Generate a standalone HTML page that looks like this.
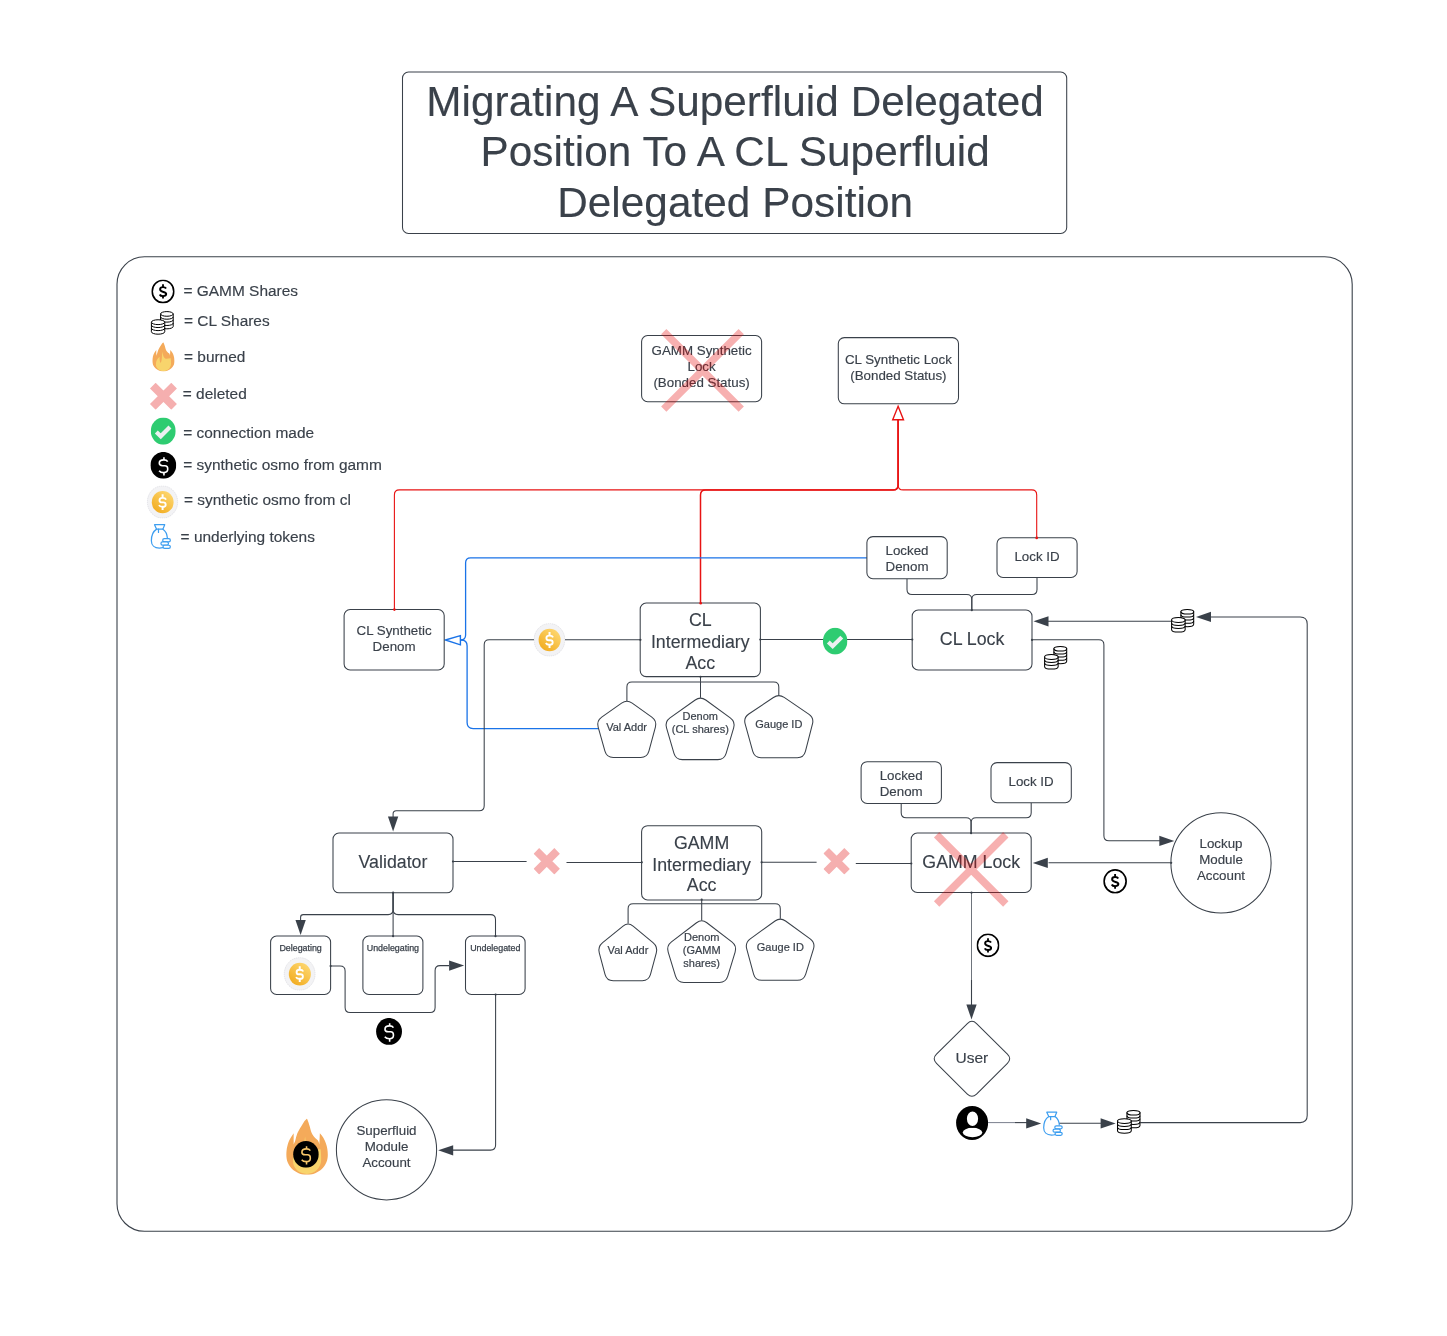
<!DOCTYPE html>
<html><head><meta charset="utf-8"><title>Migrating A Superfluid Delegated Position</title>
<style>
html,body{margin:0;padding:0;background:#fff;}
body{width:1447px;height:1336px;overflow:hidden;}
svg{display:block;font-family:"Liberation Sans", sans-serif;will-change:transform;}
</style></head><body>
<svg width="1447" height="1336" viewBox="0 0 1447 1336">

<defs>
 <linearGradient id="gold" x1="0.8" y1="0.1" x2="0.2" y2="0.9">
  <stop offset="0" stop-color="#fdd56d"/>
  <stop offset="1" stop-color="#f2ae24"/>
 </linearGradient>
 <!-- GAMM shares: outlined circle with $ -->
 <symbol id="gamm" viewBox="0 0 24 25">
  <ellipse cx="12" cy="12.4" rx="11.15" ry="11.55" fill="#fff" stroke="#000" stroke-width="1.7"/>
  <path d="M15.2 9.4 C14.6 8.4 13.6 8 12 8 C10.2 8 9 8.9 9 10.3 C9 13.9 15.3 12.3 15.3 15.2 C15.3 16.6 14 17.3 12 17.3 C10.3 17.3 9.1 16.7 8.6 15.6" fill="none" stroke="#000" stroke-width="2"/>
  <path d="M12 5 V8 M12 17.2 V19.8" stroke="#000" stroke-width="1.9"/>
 </symbol>
 <!-- synthetic osmo from gamm: black circle with thin white $ -->
 <symbol id="bdollar" viewBox="0 0 26 27">
  <ellipse cx="13" cy="13.5" rx="13" ry="13.5" fill="#000"/>
  <path d="M17.4 9.8 C16.7 8.6 15.3 8.0 13.5 8.0 C10.6 8.0 8.9 9.3 8.9 11.3 C8.9 13.2 10.3 13.9 12.3 13.9 L14.6 13.9 C16.3 13.9 17.4 15.0 17.4 16.9 L17.4 17.6 C17.4 19.6 15.7 20.9 13.4 20.9 C11.2 20.9 9.6 20.1 8.7 18.9" fill="none" stroke="#fff" stroke-width="1.6"/>
  <path d="M13.6 5.3 V8.1 M13.6 21 V23.8" stroke="#fff" stroke-width="1.6"/>
 </symbol>
 <symbol id="bdollar_gold" viewBox="0 0 26 27">
  <ellipse cx="13" cy="13.5" rx="13" ry="13.5" fill="#000"/>
  <path d="M17.4 9.8 C16.7 8.6 15.3 8.0 13.5 8.0 C10.6 8.0 8.9 9.3 8.9 11.3 C8.9 13.2 10.3 13.9 12.3 13.9 L14.6 13.9 C16.3 13.9 17.4 15.0 17.4 16.9 L17.4 17.6 C17.4 19.6 15.7 20.9 13.4 20.9 C11.2 20.9 9.6 20.1 8.7 18.9" fill="none" stroke="#f7c66a" stroke-width="1.6"/>
  <path d="M13.6 5.3 V8.1 M13.6 21 V23.8" stroke="#f7c66a" stroke-width="1.6"/>
 </symbol>
 <!-- synthetic osmo from cl: gold coin in light ring -->
 <symbol id="gcoin" viewBox="0 0 31.4 33.3">
  <ellipse cx="15.7" cy="16.65" rx="15.4" ry="16.35" fill="#f3f3f5" stroke="#d5d5da" stroke-width="0.6" stroke-dasharray="1.4 0.8"/>
  <ellipse cx="15.9" cy="16.8" rx="11.05" ry="11.35" fill="url(#gold)"/>
  <path d="M19.3 14.2 C18.8 13 17.5 12.4 15.8 12.4 C13.9 12.4 12.7 13.3 12.7 14.6 L12.7 15.1 C12.7 16.3 13.6 17 15 17 L16.6 17 C18 17 18.9 17.8 18.9 19.1 L18.9 19.6 C18.9 20.8 17.7 21.5 15.8 21.5 C14 21.5 12.7 20.9 12.1 19.8" fill="none" stroke="#fff" stroke-width="1.9"/>
  <path d="M15.8 8.9 V12.4 M15.8 21.5 V24.8" stroke="#fff" stroke-width="2"/>
 </symbol>
 <!-- coins stack (CL shares) -->
 <symbol id="coins" viewBox="0 0 24 25" overflow="visible" preserveAspectRatio="none">
  <g fill="#fff" stroke="#000" stroke-width="1.1">
   <path d="M10.25 2.6 V16.6 A6.95 2.6 0 0 0 24.15 16.6 V2.6 Z"/>
   <ellipse cx="17.2" cy="2.6" rx="6.95" ry="2.6"/>
   <path d="M10.25 5.9 A6.95 2.6 0 0 0 24.15 5.9 M10.25 9.15 A6.95 2.6 0 0 0 24.15 9.15 M10.25 12.9 A6.95 2.6 0 0 0 24.15 12.9" fill="none"/>
   <path d="M0.15 11.8 V22.5 A7.35 2.7 0 0 0 14.85 22.5 V11.8 Z"/>
   <ellipse cx="7.5" cy="11.8" rx="7.35" ry="2.7"/>
   <path d="M0.15 15.1 A7.35 2.7 0 0 0 14.85 15.1 M0.15 18.5 A7.35 2.7 0 0 0 14.85 18.5" fill="none"/>
  </g>
 </symbol>
 <!-- flame -->
 <symbol id="flame" viewBox="0 0 22.3 29.2" preserveAspectRatio="none">
  <path d="M11.1 0 C11.6 1.2 12.2 2.6 12.6 4.15 C13 5.6 13.2 6.6 13.7 7.75 C14.3 9 15.2 10.2 17 11.4 C17.4 12 17.6 12.8 17.7 13.6 C17.8 11.5 17.9 9.5 18 7.75 C19.5 9.2 20.6 11 21.3 13.2 C21.9 15 22.3 16.8 22.3 18.8 C22.3 24.5 17.5 29.2 11.1 29.2 C4.8 29.2 0 24.5 0 18.8 C0 16 0.9 12.5 2.1 10.5 C2.8 9.4 3.4 8.5 4 7.75 C3.95 9.5 4 11.5 4 13.6 C4.3 12.7 4.6 12 4.85 11.4 C5.2 10.2 5.5 9 5.96 7.75 C6.6 6.3 7.3 5.2 8 4.15 C8.7 3.1 9.3 2.2 9.8 1.4 C10.3 0.8 10.7 0.4 11.1 0 Z" fill="#f4aa5a"/>
  <path d="M10.1 9.4 C10.3 11.2 10.7 13.4 11.5 14.7 C12.2 15.9 13 16.5 13.9 16.5 C15.5 16.4 17 15.9 18.4 16 C18.6 17.5 18.7 19.5 18.7 21.5 C18.7 25.5 15.5 28.8 11.1 28.8 C6.7 28.8 3.6 25.8 3.6 22 C3.6 19.2 5 16.5 7.3 14.6 C7.2 16.5 7.3 19 8.2 20.8 C9.2 19.5 9.5 17 9.6 15 C9.7 12.8 9.8 11 10.1 9.4 Z" fill="#f8d46c"/>
 </symbol>
 <!-- money bag (underlying tokens) -->
 <symbol id="bag" viewBox="0 0 20 25.5" overflow="visible">
  <g fill="none" stroke="#3d9ef0" stroke-width="1.25" stroke-linejoin="round" stroke-linecap="round">
   <path d="M3.6 0.8 H13.9 L12.1 5.3 H5.7 Z"/>
   <path d="M7.6 5.3 V8.6"/>
   <path d="M5.7 5.3 C2.3 7.5 0.4 12 0.4 17 C0.4 21.5 3.5 24.5 8.5 24.5 C9.7 24.5 10.8 24.4 11.8 24.1"/>
   <path d="M12.1 5.3 C14.6 7 16.3 10.2 16.6 14.2"/>
   <rect x="11.9" y="14.9" width="7.7" height="3.2" rx="1.6" fill="#fff"/>
   <rect x="10.1" y="18.3" width="7.6" height="3.2" rx="1.6" fill="#fff"/>
   <rect x="12.2" y="21.6" width="7.4" height="3.2" rx="1.6" fill="#fff"/>
  </g>
 </symbol>
 <!-- green check -->
 <symbol id="check" viewBox="0 0 25 27">
  <ellipse cx="12.5" cy="13.5" rx="12.4" ry="13.5" fill="#2ecc71"/>
  <path d="M5.6 14.4 L10 18.6 L19.2 9.4" fill="none" stroke="#ecf0f1" stroke-width="4.2"/>
 </symbol>
 <!-- pink x -->
 <symbol id="px" viewBox="0 0 27 27">
  <path d="M2.85 2.85 L24.15 24.15 M24.15 2.85 L2.85 24.15" stroke="#f5afaf" stroke-width="8"/>
 </symbol>
 <!-- user -->
 <symbol id="user" viewBox="0 0 32 33.8">
  <ellipse cx="16" cy="16.9" rx="16" ry="16.9" fill="#000"/>
  <ellipse cx="16.4" cy="26.4" rx="9.75" ry="4.7" fill="#fff"/>
  <ellipse cx="16.4" cy="12.7" rx="6.4" ry="8.1" fill="#fff" stroke="#000" stroke-width="1.6"/>
 </symbol>
</defs>

<rect x="0" y="0" width="1447" height="1336" fill="#fff"/>
<rect x="402.5" y="72" width="664.2" height="161.5" rx="6" fill="#fff" stroke="#3a414a" stroke-width="1.05"/>
<text x="735.12" y="115.6" font-size="42.3" fill="#3a414a" stroke="#3a414a" stroke-width="0.12" text-anchor="middle" letter-spacing="0.05">Migrating A Superfluid Delegated</text>
<text x="735.12" y="166" font-size="42.3" fill="#3a414a" stroke="#3a414a" stroke-width="0.12" text-anchor="middle" letter-spacing="0.05">Position To A CL Superfluid</text>
<text x="735.12" y="216.6" font-size="42.3" fill="#3a414a" stroke="#3a414a" stroke-width="0.12" text-anchor="middle" letter-spacing="0.05">Delegated Position</text>
<rect x="117" y="256.8" width="1235.2" height="974.5" rx="27.5" fill="none" stroke="#3a414a" stroke-width="1.1"/>
<use href="#gamm" x="151.2" y="279.4" width="23.6" height="24.2"/>
<text x="183.5" y="296.4" font-size="15.45" fill="#3a414a" stroke="#3a414a" stroke-width="0.15" text-anchor="start">= GAMM Shares</text>
<use href="#coins" x="151.26" y="311.59" width="21.8" height="22.43"/>
<text x="184" y="325.5" font-size="15.45" fill="#3a414a" stroke="#3a414a" stroke-width="0.15" text-anchor="start">= CL Shares</text>
<use href="#flame" x="152.3" y="342.2" width="22.3" height="29.2"/>
<text x="184" y="361.8" font-size="15.45" fill="#3a414a" stroke="#3a414a" stroke-width="0.15" text-anchor="start">= burned</text>
<use href="#px" x="149.9" y="382.8" width="27.1" height="27"/>
<text x="182.8" y="398.7" font-size="15.45" fill="#3a414a" stroke="#3a414a" stroke-width="0.15" text-anchor="start">= deleted</text>
<use href="#check" x="150.7" y="417.5" width="25.1" height="27.2"/>
<text x="183.2" y="437.9" font-size="15.45" fill="#3a414a" stroke="#3a414a" stroke-width="0.15" text-anchor="start">= connection made</text>
<use href="#bdollar" x="150.4" y="451.9" width="25.9" height="26.8"/>
<text x="183.2" y="469.6" font-size="15.45" fill="#3a414a" stroke="#3a414a" stroke-width="0.15" text-anchor="start">= synthetic osmo from gamm</text>
<use href="#gcoin" x="146.6" y="485.6" width="31.8" height="32.8"/>
<text x="184" y="505.2" font-size="15.45" fill="#3a414a" stroke="#3a414a" stroke-width="0.15" text-anchor="start">= synthetic osmo from cl</text>
<use href="#bag" x="150.9" y="523.9" width="19.9" height="25.2"/>
<text x="180.6" y="542.2" font-size="15.45" fill="#3a414a" stroke="#3a414a" stroke-width="0.15" text-anchor="start">= underlying tokens</text>
<path d="M394.4 609.5 L394.4 494.9 Q394.4 489.9 399.4 489.9 L893.1 489.9 Q898.1 489.9 898.1 484.9 L898.1 420" fill="none" stroke="#e81313" stroke-width="1.1"/>
<path d="M1036.7 537.7 L1036.7 494.9 Q1036.7 489.9 1031.7 489.9 L903.1 489.9 Q898.1 489.9 898.1 484.9 L898.1 420" fill="none" stroke="#e81313" stroke-width="1.1"/>
<path d="M700.5 603 L700.5 494.9 Q700.5 489.9 705.5 489.9 L893.1 489.9 Q898.1 489.9 898.1 484.9 L898.1 420" fill="none" stroke="#e81313" stroke-width="1.5"/>
<path d="M867 557.8 L470.6 557.8 Q465.6 557.8 465.6 562.8 L465.6 635 Q465.6 640 460.6 640 L452 640" fill="none" stroke="#1a73e8" stroke-width="1.3"/>
<path d="M600 728.6 L473.1 728.6 Q467.1 728.6 467.1 722.6 L467.1 646 Q467.1 640 461.1 640 L452 640" fill="none" stroke="#1a73e8" stroke-width="1.3"/>
<path d="M640.2 639.7 L565 639.7" fill="none" stroke="#3a414a" stroke-width="1.05"/>
<path d="M534 639.7 L489.2 639.7 Q484.2 639.7 484.2 644.7 L484.2 805.7 Q484.2 810.7 479.2 810.7 L396.25 810.7 Q393.1 810.7 393.1 813.85 L393.1 817" fill="none" stroke="#3a414a" stroke-width="1.05"/>
<path d="M393.1 831.5 L387.95 816.5 L398.25 816.5 Z" fill="#3a414a"/>
<path d="M760.4 639.5 L823 639.5" fill="none" stroke="#3a414a" stroke-width="1.05"/>
<path d="M847 639.5 L912.2 639.5" fill="none" stroke="#3a414a" stroke-width="1.05"/>
<path d="M700.5 676.6 L700.5 681.9" fill="none" stroke="#3a414a" stroke-width="1.05"/>
<path d="M626.9 701 L626.9 686.9 Q626.9 681.9 631.9 681.9 L773.8 681.9 Q778.8 681.9 778.8 686.9 L778.8 695.4" fill="none" stroke="#3a414a" stroke-width="1.05"/>
<path d="M700.5 681.9 L700.5 697.8" fill="none" stroke="#3a414a" stroke-width="1.05"/>
<path d="M907 578.7 L907 589.5 Q907 594.5 912 594.5 L966.8 594.5 Q971.8 594.5 971.8 599.5 L971.8 610" fill="none" stroke="#3a414a" stroke-width="1.05"/>
<path d="M1037 577.5 L1037 589.5 Q1037 594.5 1032 594.5 L976.8 594.5 Q971.8 594.5 971.8 599.5 L971.8 610" fill="none" stroke="#3a414a" stroke-width="1.05"/>
<path d="M1032 639.8 L1098.9 639.8 Q1103.9 639.8 1103.9 644.8 L1103.9 835.8 Q1103.9 840.8 1108.9 840.8 L1160 840.8" fill="none" stroke="#3a414a" stroke-width="1.05"/>
<path d="M1174.3 840.9 L1159.3 835.75 L1159.3 846.05 Z" fill="#3a414a"/>
<path d="M1140.5 1122.6 L1300.2 1122.6 Q1307.2 1122.6 1307.2 1115.6 L1307.2 623.9 Q1307.2 616.9 1300.2 616.9 L1210 616.9" fill="none" stroke="#3a414a" stroke-width="1.05"/>
<path d="M1196 616.9 L1211 611.75 L1211 622.05 Z" fill="#3a414a"/>
<path d="M1171 621.3 L1048 621.3" fill="none" stroke="#3a414a" stroke-width="1.05"/>
<path d="M1033.5 621.3 L1048.5 616.15 L1048.5 626.45 Z" fill="#3a414a"/>
<path d="M988 1122.6 L1015 1122.6" fill="none" stroke="#6b7280" stroke-width="0.9"/>
<path d="M1015 1122.6 L1027 1122.6" fill="none" stroke="#3a414a" stroke-width="1.1"/>
<path d="M1041.2 1123.4 L1026.2 1118.25 L1026.2 1128.55 Z" fill="#3a414a"/>
<path d="M1059 1123.3 L1101 1123.3" fill="none" stroke="#3a414a" stroke-width="1.05"/>
<path d="M1115.6 1123.4 L1100.6 1118.25 L1100.6 1128.55 Z" fill="#3a414a"/>
<path d="M453 861.4 L526.6 861.4" fill="none" stroke="#3a414a" stroke-width="1.05"/>
<path d="M566.5 862.4 L641.6 862.4" fill="none" stroke="#3a414a" stroke-width="1.05"/>
<path d="M761.7 862.2 L816.6 862.2" fill="none" stroke="#3a414a" stroke-width="1.05"/>
<path d="M855.8 863.4 L911.2 863.4" fill="none" stroke="#3a414a" stroke-width="1.05"/>
<path d="M1171 862.8 L1048.5 862.8" fill="none" stroke="#3a414a" stroke-width="1.05"/>
<path d="M1032.8 862.9 L1047.8 857.75 L1047.8 868.05 Z" fill="#3a414a"/>
<path d="M971.5 892.5 L971.5 980" fill="none" stroke="#5d646d" stroke-width="0.9"/>
<path d="M971.5 980 L971.5 1005" fill="none" stroke="#3a414a" stroke-width="1.1"/>
<path d="M971.5 1019.4 L966.35 1004.4 L976.65 1004.4 Z" fill="#3a414a"/>
<path d="M901.2 803.5 L901.2 812.8 Q901.2 817.8 906.2 817.8 L966.1 817.8 Q971.1 817.8 971.1 822.8 L971.1 833" fill="none" stroke="#3a414a" stroke-width="1.05"/>
<path d="M1031.2 802.7 L1031.2 812.8 Q1031.2 817.8 1026.2 817.8 L976.1 817.8 Q971.1 817.8 971.1 822.8 L971.1 833" fill="none" stroke="#3a414a" stroke-width="1.05"/>
<path d="M701.7 899.5 L701.7 920.4" fill="none" stroke="#3a414a" stroke-width="1.05"/>
<path d="M628.1 923.6 L628.1 908.7 Q628.1 903.7 633.1 903.7 L775.3 903.7 Q780.3 903.7 780.3 908.7 L780.3 918.8" fill="none" stroke="#3a414a" stroke-width="1.05"/>
<path d="M393.1 892.5 L393.1 936.1" fill="none" stroke="#3a414a" stroke-width="1.05"/>
<path d="M393.1 892.5 L393.1 909.6 Q393.1 914.6 388.1 914.6 L303.3 914.6 Q300.6 914.6 300.6 917.3 L300.6 920" fill="none" stroke="#3a414a" stroke-width="1.05"/>
<path d="M300.6 934.9 L295.45 919.9 L305.75 919.9 Z" fill="#3a414a"/>
<path d="M393.1 892.5 L393.1 909.6 Q393.1 914.6 398.1 914.6 L490.5 914.6 Q495.5 914.6 495.5 919.6 L495.5 936.1" fill="none" stroke="#3a414a" stroke-width="1.05"/>
<path d="M330.6 965.9 L340.1 965.9 Q345.1 965.9 345.1 970.9 L345.1 1007.5 Q345.1 1012.5 350.1 1012.5 L430.1 1012.5 Q435.1 1012.5 435.1 1007.5 L435.1 970.6 Q435.1 965.6 440.1 965.6 L449 965.6" fill="none" stroke="#3a414a" stroke-width="1.05"/>
<path d="M464.1 965.6 L449.1 960.45 L449.1 970.75 Z" fill="#3a414a"/>
<path d="M495.6 994.5 L495.6 1145.1 Q495.6 1150.1 490.6 1150.1 L453 1150.1" fill="none" stroke="#3a414a" stroke-width="1.05"/>
<path d="M438.2 1150.3 L453.2 1145.15 L453.2 1155.45 Z" fill="#3a414a"/>
<rect x="641.6" y="335.5" width="120" height="66.2" rx="6" fill="#fff" stroke="#3a414a" stroke-width="1.05"/>
<text x="701.6" y="354.8" font-size="13.33" fill="#3a414a" stroke="#3a414a" stroke-width="0.15" text-anchor="middle">GAMM Synthetic</text>
<text x="701.6" y="370.9" font-size="13.33" fill="#3a414a" stroke="#3a414a" stroke-width="0.15" text-anchor="middle">Lock</text>
<text x="701.6" y="386.8" font-size="13.33" fill="#3a414a" stroke="#3a414a" stroke-width="0.15" text-anchor="middle">(Bonded Status)</text>
<rect x="838.3" y="337.6" width="120.2" height="66.2" rx="6" fill="#fff" stroke="#3a414a" stroke-width="1.05"/>
<text x="898.4" y="364.2" font-size="13.33" fill="#3a414a" stroke="#3a414a" stroke-width="0.15" text-anchor="middle">CL Synthetic Lock</text>
<text x="898.4" y="379.7" font-size="13.33" fill="#3a414a" stroke="#3a414a" stroke-width="0.15" text-anchor="middle">(Bonded Status)</text>
<path d="M898.1 406.3 L903.5 419.7 L892.7 419.7 Z" fill="#fff" stroke="#e81313" stroke-width="1.4" stroke-linejoin="miter"/>
<path d="M445.4 640 L460.4 635.6 L460.4 644.9 Z" fill="#fff" stroke="#1a73e8" stroke-width="1.4"/>
<rect x="344.1" y="609.5" width="100.1" height="60.4" rx="6" fill="#fff" stroke="#3a414a" stroke-width="1.05"/>
<text x="394.1" y="634.7" font-size="13.33" fill="#3a414a" stroke="#3a414a" stroke-width="0.15" text-anchor="middle">CL Synthetic</text>
<text x="394.1" y="650.7" font-size="13.33" fill="#3a414a" stroke="#3a414a" stroke-width="0.15" text-anchor="middle">Denom</text>
<rect x="640.2" y="603" width="120.2" height="73.6" rx="6" fill="#fff" stroke="#3a414a" stroke-width="1.05"/>
<text x="700.3" y="625.9" font-size="17.77" fill="#3a414a" stroke="#3a414a" stroke-width="0.12" text-anchor="middle">CL</text>
<text x="700.3" y="647.5" font-size="17.77" fill="#3a414a" stroke="#3a414a" stroke-width="0.12" text-anchor="middle">Intermediary</text>
<text x="700.3" y="668.7" font-size="17.77" fill="#3a414a" stroke="#3a414a" stroke-width="0.12" text-anchor="middle">Acc</text>
<rect x="866.9" y="536.6" width="80.3" height="42.1" rx="6" fill="#fff" stroke="#3a414a" stroke-width="1.05"/>
<text x="907" y="554.7" font-size="13.33" fill="#3a414a" stroke="#3a414a" stroke-width="0.15" text-anchor="middle">Locked</text>
<text x="907" y="570.8" font-size="13.33" fill="#3a414a" stroke="#3a414a" stroke-width="0.15" text-anchor="middle">Denom</text>
<rect x="997" y="537.7" width="80.1" height="39.8" rx="6" fill="#fff" stroke="#3a414a" stroke-width="1.05"/>
<text x="1037" y="561.2" font-size="13.33" fill="#3a414a" stroke="#3a414a" stroke-width="0.15" text-anchor="middle">Lock ID</text>
<rect x="912.2" y="610" width="119.8" height="60" rx="6" fill="#fff" stroke="#3a414a" stroke-width="1.05"/>
<text x="972.1" y="644.9" font-size="17.77" fill="#3a414a" stroke="#3a414a" stroke-width="0.12" text-anchor="middle">CL Lock</text>
<path d="M621.59 703.15 Q626.9 699.4 632.2 703.17 L651.8 717.13 Q657.1 720.9 655.4 727.17 L648.9 751.13 Q647.2 757.4 640.7 757.4 L613.2 757.4 Q606.7 757.4 604.93 751.14 L598.17 727.16 Q596.4 720.9 601.71 717.15 Z" fill="#fff" stroke="#3a414a" stroke-width="1.05"/>
<text x="626.6" y="731.2" font-size="11" fill="#3a414a" stroke="#3a414a" stroke-width="0.2" text-anchor="middle">Val Addr</text>
<path d="M695.21 699.97 Q700.5 696.2 705.75 700.03 L730.25 717.87 Q735.5 721.7 733.66 727.93 L726.14 753.37 Q724.3 759.6 717.8 759.6 L682.3 759.6 Q675.8 759.6 673.97 753.36 L666.53 727.94 Q664.7 721.7 669.99 717.93 Z" fill="#fff" stroke="#3a414a" stroke-width="1.05"/>
<text x="700.3" y="720.1" font-size="11" fill="#3a414a" stroke="#3a414a" stroke-width="0.2" text-anchor="middle">Denom</text>
<text x="700.3" y="732.8" font-size="11" fill="#3a414a" stroke="#3a414a" stroke-width="0.2" text-anchor="middle">(CL shares)</text>
<path d="M773.41 697.44 Q778.8 693.8 784.18 697.44 L808.72 714.06 Q814.1 717.7 812.48 723.99 L805.42 751.41 Q803.8 757.7 797.3 757.7 L761 757.7 Q754.5 757.7 752.76 751.44 L745.14 723.96 Q743.4 717.7 748.79 714.06 Z" fill="#fff" stroke="#3a414a" stroke-width="1.05"/>
<text x="778.8" y="727.5" font-size="11" fill="#3a414a" stroke="#3a414a" stroke-width="0.2" text-anchor="middle">Gauge ID</text>
<rect x="333" y="833" width="120" height="59.8" rx="6" fill="#fff" stroke="#3a414a" stroke-width="1.05"/>
<text x="393" y="867.7" font-size="17.77" fill="#3a414a" stroke="#3a414a" stroke-width="0.12" text-anchor="middle">Validator</text>
<rect x="641.6" y="825.7" width="120.1" height="74.3" rx="6" fill="#fff" stroke="#3a414a" stroke-width="1.05"/>
<text x="701.6" y="848.7" font-size="17.77" fill="#3a414a" stroke="#3a414a" stroke-width="0.12" text-anchor="middle">GAMM</text>
<text x="701.6" y="870.6" font-size="17.77" fill="#3a414a" stroke="#3a414a" stroke-width="0.12" text-anchor="middle">Intermediary</text>
<text x="701.6" y="891" font-size="17.77" fill="#3a414a" stroke="#3a414a" stroke-width="0.12" text-anchor="middle">Acc</text>
<rect x="861.1" y="761.7" width="80.3" height="41.8" rx="6" fill="#fff" stroke="#3a414a" stroke-width="1.05"/>
<text x="901.2" y="779.6" font-size="13.33" fill="#3a414a" stroke="#3a414a" stroke-width="0.15" text-anchor="middle">Locked</text>
<text x="901.2" y="795.5" font-size="13.33" fill="#3a414a" stroke="#3a414a" stroke-width="0.15" text-anchor="middle">Denom</text>
<rect x="991" y="762.6" width="80.3" height="40.1" rx="6" fill="#fff" stroke="#3a414a" stroke-width="1.05"/>
<text x="1031.1" y="785.5" font-size="13.33" fill="#3a414a" stroke="#3a414a" stroke-width="0.15" text-anchor="middle">Lock ID</text>
<rect x="911.2" y="833" width="120" height="59.5" rx="6" fill="#fff" stroke="#3a414a" stroke-width="1.05"/>
<text x="971.2" y="867.5" font-size="17.77" fill="#3a414a" stroke="#3a414a" stroke-width="0.12" text-anchor="middle">GAMM Lock</text>
<circle cx="1221" cy="862.9" r="50.1" fill="#fff" stroke="#3a414a" stroke-width="1.05"/>
<text x="1221" y="847.7" font-size="13.33" fill="#3a414a" stroke="#3a414a" stroke-width="0.15" text-anchor="middle">Lockup</text>
<text x="1221" y="863.9" font-size="13.33" fill="#3a414a" stroke="#3a414a" stroke-width="0.15" text-anchor="middle">Module</text>
<text x="1221" y="879.9" font-size="13.33" fill="#3a414a" stroke="#3a414a" stroke-width="0.15" text-anchor="middle">Account</text>
<path d="M623.05 926.09 Q628.1 922 633.11 926.14 L652.99 942.56 Q658 946.7 656.3 952.97 L650.5 974.43 Q648.8 980.7 642.3 980.7 L613.2 980.7 Q606.7 980.7 605.02 974.42 L599.28 952.98 Q597.6 946.7 602.65 942.61 Z" fill="#fff" stroke="#3a414a" stroke-width="1.05"/>
<text x="628" y="953.8" font-size="11" fill="#3a414a" stroke="#3a414a" stroke-width="0.2" text-anchor="middle">Val Addr</text>
<path d="M696.54 922.75 Q701.7 918.8 706.86 922.76 L731.84 941.94 Q737 945.9 735.11 952.12 L727.79 976.18 Q725.9 982.4 719.4 982.4 L683.9 982.4 Q677.4 982.4 675.51 976.18 L668.19 952.12 Q666.3 945.9 671.46 941.95 Z" fill="#fff" stroke="#3a414a" stroke-width="1.05"/>
<text x="701.7" y="940.8" font-size="11" fill="#3a414a" stroke="#3a414a" stroke-width="0.2" text-anchor="middle">Denom</text>
<text x="701.7" y="953.8" font-size="11" fill="#3a414a" stroke="#3a414a" stroke-width="0.2" text-anchor="middle">(GAMM</text>
<text x="701.7" y="967.3" font-size="11" fill="#3a414a" stroke="#3a414a" stroke-width="0.2" text-anchor="middle">shares)</text>
<path d="M775.03 921.01 Q780.3 917.2 785.56 921.02 L810.14 938.88 Q815.4 942.7 813.48 948.91 L805.72 974.09 Q803.8 980.3 797.3 980.3 L761.8 980.3 Q755.3 980.3 753.58 974.03 L746.72 948.97 Q745 942.7 750.27 938.89 Z" fill="#fff" stroke="#3a414a" stroke-width="1.05"/>
<text x="780.3" y="950.6" font-size="11" fill="#3a414a" stroke="#3a414a" stroke-width="0.2" text-anchor="middle">Gauge ID</text>
<rect x="270.6" y="936" width="60" height="58.5" rx="6" fill="#fff" stroke="#3a414a" stroke-width="1.05"/>
<text x="300.6" y="951" font-size="8.9" fill="#3a414a" stroke="#3a414a" stroke-width="0.25" text-anchor="middle">Delegating</text>
<rect x="362.9" y="936" width="60" height="58.5" rx="6" fill="#fff" stroke="#3a414a" stroke-width="1.05"/>
<text x="392.9" y="951" font-size="8.9" fill="#3a414a" stroke="#3a414a" stroke-width="0.25" text-anchor="middle">Undelegating</text>
<rect x="465.5" y="936" width="59.6" height="58.5" rx="6" fill="#fff" stroke="#3a414a" stroke-width="1.05"/>
<text x="495.3" y="951" font-size="8.9" fill="#3a414a" stroke="#3a414a" stroke-width="0.25" text-anchor="middle">Undelegated</text>
<circle cx="386.5" cy="1149.8" r="50.1" fill="#fff" stroke="#3a414a" stroke-width="1.05"/>
<text x="386.5" y="1134.8" font-size="13.33" fill="#3a414a" stroke="#3a414a" stroke-width="0.15" text-anchor="middle">Superfluid</text>
<text x="386.5" y="1150.9" font-size="13.33" fill="#3a414a" stroke="#3a414a" stroke-width="0.15" text-anchor="middle">Module</text>
<text x="386.5" y="1167.1" font-size="13.33" fill="#3a414a" stroke="#3a414a" stroke-width="0.15" text-anchor="middle">Account</text>
<path d="M967.34 1023.58 Q971.95 1019 976.56 1023.58 L1007.39 1054.22 Q1012 1058.8 1007.39 1063.38 L976.56 1094.02 Q971.95 1098.6 967.34 1094.02 L936.51 1063.38 Q931.9 1058.8 936.51 1054.22 Z" fill="#fff" stroke="#3a414a" stroke-width="1.05"/>
<text x="971.9" y="1062.5" font-size="15.5" fill="#3a414a" stroke="#3a414a" stroke-width="0.15" text-anchor="middle">User</text>
<circle cx="394.4" cy="609.6" r="1.3" fill="#e81313"/>
<circle cx="700.7" cy="603.2" r="1.3" fill="#e81313"/>
<circle cx="1036.7" cy="537.9" r="1.3" fill="#e81313"/>
<circle cx="640.4" cy="639.8" r="1.1" fill="#3a414a"/>
<circle cx="760.3" cy="639.6" r="1.1" fill="#3a414a"/>
<circle cx="912.3" cy="639.6" r="1.1" fill="#3a414a"/>
<circle cx="1032" cy="639.9" r="1.1" fill="#3a414a"/>
<circle cx="971.8" cy="610.2" r="1.1" fill="#3a414a"/>
<circle cx="971.1" cy="833.2" r="1.1" fill="#3a414a"/>
<circle cx="641.8" cy="862.3" r="1.1" fill="#3a414a"/>
<circle cx="761.6" cy="862.3" r="1.1" fill="#3a414a"/>
<circle cx="911.3" cy="863.5" r="1.1" fill="#3a414a"/>
<circle cx="453" cy="861.5" r="1.1" fill="#3a414a"/>
<circle cx="393.1" cy="892.7" r="1.1" fill="#3a414a"/>
<circle cx="495.5" cy="936.2" r="1.1" fill="#3a414a"/>
<circle cx="393.1" cy="936.2" r="1.1" fill="#3a414a"/>
<circle cx="700.5" cy="676.8" r="1.1" fill="#3a414a"/>
<circle cx="701.7" cy="899.7" r="1.1" fill="#3a414a"/>
<circle cx="330.6" cy="966" r="1.1" fill="#3a414a"/>
<circle cx="495.6" cy="994.6" r="1.1" fill="#3a414a"/>
<circle cx="1171.2" cy="862.8" r="1.1" fill="#3a414a"/>
<circle cx="971.5" cy="892.7" r="1.1" fill="#3a414a"/>
<use href="#gcoin" x="533.75" y="623.2" width="31.4" height="33.3"/>
<use href="#check" x="822.8" y="627.6" width="24.7" height="27.1"/>
<use href="#coins" x="1044.47" y="646.4" width="22.09" height="22.53"/>
<use href="#coins" x="1171.47" y="609.4" width="22.09" height="22.53"/>
<use href="#gamm" x="1103.1" y="869.1" width="24" height="24.7"/>
<use href="#gamm" x="976.5" y="933.3" width="23" height="24.3"/>
<use href="#px" x="533.5" y="848.1" width="26.5" height="26.3"/>
<use href="#px" x="823.4" y="847.9" width="26.5" height="26.7"/>
<use href="#gcoin" x="283.2" y="957.3" width="32.9" height="33.3"/>
<use href="#bdollar" x="376.1" y="1017.9" width="25.9" height="27"/>
<use href="#flame" x="286.2" y="1118.4" width="41.7" height="56.3"/>
<use href="#bdollar_gold" x="293.1" y="1140.9" width="25.7" height="26.9"/>
<use href="#user" x="956.1" y="1106.1" width="32" height="33.8"/>
<use href="#bag" x="1043.3" y="1111.3" width="19.3" height="24.9"/>
<use href="#coins" x="1117.37" y="1110.4" width="22.47" height="22.62"/>
<path d="M663.75 331.6 L741.25 409.2 M741.25 331.6 L663.75 409.2" stroke="rgba(230,0,0,0.31)" stroke-width="7.5" fill="none"/>
<path d="M936.6 834.75 L1005.8 903.95 M1005.8 834.75 L936.6 903.95" stroke="rgba(230,0,0,0.31)" stroke-width="7.6" fill="none"/>
</svg>
</body></html>
